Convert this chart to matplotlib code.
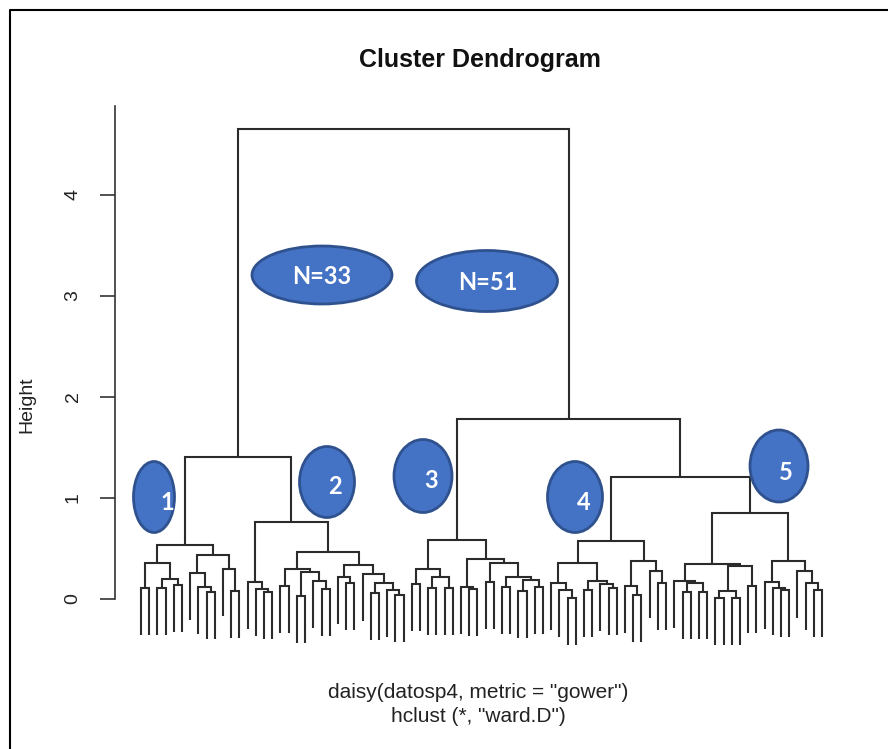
import matplotlib
matplotlib.use("Agg")
import matplotlib.pyplot as plt
from matplotlib.patches import Ellipse

plt.rcParams['font.family'] = ['Liberation Sans', 'DejaVu Sans']

# ---------------- data ----------------
o = None  # a leaf (labels are blank in the reference)

# merge trees of the five clusters: (height, left, right)
cluster_1 = (0.53,
             (0.36, (0.11, o, o), (0.20, (0.11, o, o), (0.14, o, o))),
             (0.44, (0.26, o, (0.12, o, (0.07, o, o))), (0.30, o, (0.08, o, o))))
cluster_2 = (0.76,
             (0.17, o, (0.10, o, (0.07, o, o))),
             (0.47,
              (0.30, (0.13, o, o), (0.27, (0.03, o, o), (0.18, o, (0.10, o, o)))),
              (0.34, (0.22, o, (0.16, o, o)),
               (0.25, o, (0.16, (0.06, o, o), (0.09, o, (0.04, o, o)))))))
cluster_3 = (0.58,
             (0.30, (0.15, o, o), (0.22, (0.11, o, o), (0.11, o, o))),
             (0.40, (0.12, o, (0.10, o, o)),
              (0.36, (0.17, o, o), (0.22, (0.12, o, o), (0.19, (0.08, o, o), (0.12, o, o))))))
cluster_4 = (0.57,
             (0.36, (0.16, o, (0.09, o, (0.01, o, o))), (0.18, (0.09, o, o), (0.15, o, (0.11, o, o)))),
             (0.38, (0.13, o, (0.04, o, o)), (0.28, o, (0.16, o, o))))
cluster_5 = (0.85,
             (0.35, (0.18, o, (0.16, (0.07, o, o), (0.07, o, o))),
              (0.33, (0.08, (0.01, o, o), (0.01, o, o)), (0.13, o, o))),
             (0.38, (0.17, o, (0.11, o, (0.09, o, o))), (0.28, o, (0.16, o, (0.09, o, o)))))

height_c1_c2 = 1.41
height_c4_c5 = 1.21
height_c3_c45 = 1.78
height_root = 4.65

y_ticks = [0, 1, 2, 3, 4]
title = "Cluster Dendrogram"
xlabel_lines = ['daisy(datosp4, metric = "gower")', 'hclust (*, "ward.D")']
ylabel = "Height"

# annotation ellipses (figure pixel positions)
ellipse_labels = ["N=33", "N=51", "1", "2", "3", "4", "5"]
ellipse_centers = [(322, 275), (487, 281), (154, 497), (327, 482), (423, 476), (575, 497), (779, 466)]
ellipse_sizes = [(140, 58), (141, 61), (41, 71), (55, 71), (58, 73), (55, 71), (58, 72)]
ellipse_text_pos = [(322, 276), (488, 282), (167, 503), (335, 487), (431, 480), (584, 502), (786, 472)]

# ---------------- build ----------------
tree = (height_root,
        (height_c1_c2, cluster_1, cluster_2),
        (height_c3_c45, cluster_3, (height_c4_c5, cluster_4, cluster_5)))
hang = 0.1 * height_root

segments = []
counter = [0]


def layout(node):
    """returns x position of node; collects segments"""
    if node is None:
        x = counter[0]
        counter[0] += 1
        return x, None
    h, left, right = node
    xl, hl = layout(left)
    xr, hr = layout(right)
    if hl is None:
        hl = h - hang
    if hr is None:
        hr = h - hang
    segments.append(([xl, xl, xr, xr], [hl, h, h, hr]))
    return (xl + xr) / 2.0, h


layout(tree)
n_leaves = counter[0]

W, H = 888, 749
fig = plt.figure(figsize=(W / 100, H / 100), dpi=100)

# axes mapped so leaf 0 -> px 141, leaf step 8.2 px; height 0 -> py 599, 101 px/unit
ax_left_px, ax_right_px = 115, 850
ax_top_px, ax_bot_px = 100, 660
ax = fig.add_axes([ax_left_px / W, 1 - ax_bot_px / H,
                   (ax_right_px - ax_left_px) / W, (ax_bot_px - ax_top_px) / H])
step = (822 - 141) / (n_leaves - 1)
ax.set_xlim((ax_left_px - 141) / step, (ax_right_px - 141) / step)
ax.set_ylim((599 - ax_bot_px) / 101, (599 - ax_top_px) / 101)

for xs, ys in segments:
    ax.plot(xs, ys, color="#2b2b2b", lw=1.5, solid_capstyle="butt", solid_joinstyle="miter")

for s in ["top", "right", "bottom"]:
    ax.spines[s].set_visible(False)
ax.spines["left"].set_bounds(0, 4.88)
ax.spines["left"].set_linewidth(1.2)
ax.spines["left"].set_color("#333333")
ax.set_xticks([])
ax.set_yticks(y_ticks)
ax.set_yticklabels([str(t) for t in y_ticks])
ax.tick_params(axis="y", length=11, width=1.2, color="#333333", labelsize=14,
               labelrotation=90, pad=13, labelcolor="#222222")
for lab in ax.get_yticklabels():
    lab.set_va("center")
    lab.set_ha("right")
ax.patch.set_alpha(0)

# overlay in pixel coordinates
ov = fig.add_axes([0, 0, 1, 1], zorder=5)
ov.set_xlim(0, W)
ov.set_ylim(H, 0)
ov.axis("off")
ov.patch.set_alpha(0)

# frame
ov.plot([10, 10, W + 5], [H + 5, 10, 10], color="black", lw=1.5)

ov.text(480, 60, title, ha="center", va="center", fontsize=18, fontweight="bold", color="#111111")
ov.text(478, 693, xlabel_lines[0], ha="center", va="center", fontsize=15, color="#222222")
ov.text(478, 717, xlabel_lines[1], ha="center", va="center", fontsize=15, color="#222222")
ov.text(27, 405, ylabel, ha="center", va="center", rotation=90, fontsize=14, color="#222222")

for lab, (cx, cy), (w, h), (tx, ty) in zip(ellipse_labels, ellipse_centers, ellipse_sizes, ellipse_text_pos):
    ov.add_patch(Ellipse((cx, cy), w, h, facecolor="#4472C4", edgecolor="#2F528F", lw=2))
    ov.text(tx, ty, lab, ha="center", va="center", color="white", fontsize=17,
            fontweight="bold", family=["Lato", "DejaVu Sans"])

fig.savefig("out.png", dpi=100)
